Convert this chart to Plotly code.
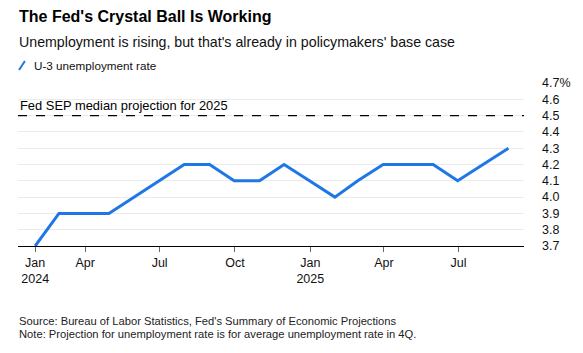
import pandas as pd
import plotly.graph_objects as go

# ---- data ----
months = ["2024-01", "2024-02", "2024-03", "2024-04", "2024-05", "2024-06",
          "2024-07", "2024-08", "2024-09", "2024-10", "2024-11", "2024-12",
          "2025-01", "2025-02", "2025-03", "2025-04", "2025-05", "2025-06",
          "2025-07", "2025-08"]
u3_rate = [3.7, 3.9, 3.9, 3.9, 4.0, 4.1, 4.2, 4.2, 4.1, 4.1, 4.2, 4.1,
           4.0, 4.1, 4.2, 4.2, 4.2, 4.1, 4.2, 4.3]
sep_projection_2025 = 4.5
x_tick_dates = ["2024-01-31", "2024-04-01", "2024-07-01", "2024-10-01",
                "2025-01-01", "2025-04-01", "2025-07-01"]
x_tick_text = ["Jan<br>2024", "Apr", "Jul", "Oct", "Jan<br>2025", "Apr", "Jul"]
y_tick_vals = [3.7, 3.8, 3.9, 4.0, 4.1, 4.2, 4.3, 4.4, 4.5, 4.6, 4.7]
y_tick_text = ["3.7", "3.8", "3.9", "4.0", "4.1", "4.2", "4.3", "4.4", "4.5", "4.6", "4.7%"]

dates = [pd.Period(m, "M").end_time.normalize() for m in months]

FONT = "Liberation Sans, Arial, sans-serif"
BLUE = "#1f77e6"

fig = go.Figure()
fig.add_trace(go.Scatter(
    x=dates, y=u3_rate, mode="lines",
    line=dict(color=BLUE, width=3),
    name="U-3 unemployment rate", showlegend=False,
))

fig.add_shape(type="line", xref="paper", x0=0, x1=1, yref="y",
              y0=sep_projection_2025, y1=sep_projection_2025,
              line=dict(color="black", width=1.2, dash="dash"))

# legend glyph
fig.add_shape(type="line", xref="paper", yref="paper",
              x0=(19 - 18) / 510, x1=(25 - 18) / 510,
              y0=(246 - 70) / 163, y1=(246 - 61) / 163,
              line=dict(color=BLUE, width=2))

ann = []
ann.append(dict(text="<b>The Fed's Crystal Ball Is Working</b>", x=(17 - 18) / 510,
                y=(246 - 17) / 163, font=dict(size=16, color="black")))
ann.append(dict(text="Unemployment is rising, but that's already in policymakers' base case",
                x=(17 - 18) / 510, y=(246 - 42) / 163, font=dict(size=14.2, color="#111")))
ann.append(dict(text="U-3 unemployment rate", x=(32 - 18) / 510,
                y=(246 - 65) / 163, font=dict(size=11.7, color="#111")))
ann.append(dict(text="Source: Bureau of Labor Statistics, Fed's Summary of Economic Projections",
                x=(17 - 18) / 510, y=(246 - 321) / 163, font=dict(size=11.2, color="#222")))
ann.append(dict(text="Note: Projection for unemployment rate is for average unemployment rate in 4Q.",
                x=(17 - 18) / 510, y=(246 - 334) / 163, font=dict(size=11.2, color="#222")))
for a in ann:
    a.update(xref="paper", yref="paper", xanchor="left", yanchor="middle",
             showarrow=False)
fig.add_annotation(text="Fed SEP median projection for 2025", xref="paper", yref="y",
                   x=0, y=sep_projection_2025, xanchor="left", yanchor="bottom",
                   yshift=1, showarrow=False, font=dict(size=12.9, color="black"))
for a in ann:
    fig.add_annotation(**a)

fig.update_layout(
    width=583, height=353,
    margin=dict(l=18, r=55, t=83, b=107),
    paper_bgcolor="white", plot_bgcolor="white",
    font=dict(family=FONT, size=12, color="#111"),
    showlegend=False,
)
fig.update_xaxes(
    type="date",
    range=["2024-01-10", "2025-09-19"],
    tickvals=x_tick_dates, ticktext=x_tick_text,
    showgrid=False, showline=True, linecolor="black", linewidth=1,
    ticks="outside", ticklen=5, tickcolor="#666", tickwidth=1,
    tickfont=dict(size=12.5, color="#111"),
    zeroline=False,
)
fig.update_yaxes(
    side="right", range=[3.7, 4.7],
    tickvals=y_tick_vals, ticktext=y_tick_text,
    showgrid=True, gridcolor="#ebebeb", gridwidth=1,
    ticks="", ticklabelstandoff=17,
    tickfont=dict(size=12.5, color="#111"),
    zeroline=False, showline=False,
)

fig.write_html("out.html")
